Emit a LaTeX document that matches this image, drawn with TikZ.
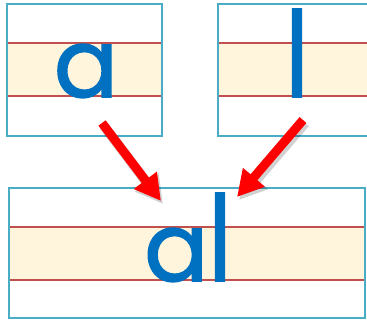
\documentclass[tikz,border=0pt]{standalone}
\usepackage{fontspec}
\newfontfamily\letterfont[FakeBold=1.6]{Poppins}
\usetikzlibrary{arrows.meta}
\definecolor{boxblue}{HTML}{4BACC6}
\definecolor{guidered}{HTML}{C0504D}
\definecolor{bandfill}{HTML}{FFF5DC}
\definecolor{letterblue}{HTML}{0070C0}
\definecolor{arrowred}{HTML}{FF0000}
\newcommand{\talll}{\scalebox{1}[1.25]{l}}
\tikzset{
  frame/.style={draw=boxblue, line width=2pt, inner sep=0pt},
  guide/.style={draw=guidered, line width=1.8pt},
  band/.style={fill=bandfill},
  letter/.style={text=letterblue, inner sep=0pt, font=\letterfont\fontsize{95}{95}\selectfont},
  redarrow/.style={draw=arrowred, line width=9pt, -{Triangle[length=26pt 0 0, width=27pt 0 0]}},
  shadowarrow/.style={draw=black, opacity=0.18, line width=10pt, -{Triangle[length=27pt 0 0, width=28pt 0 0]}}
}
\begin{document}
\begin{tikzpicture}[x=1pt,y=-1pt]
\useasboundingbox (0,0) rectangle (367,327);
% top-left box
\fill[band] (7,43) rectangle (162,96);
\draw[guide] (7,43) -- (162,43);
\draw[guide] (7,96) -- (162,96);
\node[frame, minimum width=155pt, minimum height=132pt] (boxa) at (84.5,70) {};
% top-right box
\fill[band] (218,43) rectangle (372,96);
\draw[guide] (218,43) -- (372,43);
\draw[guide] (218,96) -- (372,96);
\node[frame, minimum width=154pt, minimum height=132pt] (boxl) at (295,70) {};
% bottom box
\fill[band] (9,227) rectangle (365,280);
\draw[guide] (9,227) -- (365,227);
\draw[guide] (9,280) -- (365,280);
\node[frame, minimum width=356pt, minimum height=130pt] (boxal) at (187,253) {};
% letters
\node[letter, anchor=base] (la) at (86,97) {a};
\node[letter, anchor=base] (ll) at (297,97) {\talll};
\node[letter, anchor=base] (wal) at (188,281) {a\talll};
% arrows
\coordinate (s1) at (102,123);
\coordinate (e1) at (161,201);
\coordinate (s2) at (303,120);
\coordinate (e2) at (237,197);
\coordinate (s1sh) at (104,126);
\coordinate (e1sh) at (163,204);
\coordinate (s2sh) at (305,123);
\coordinate (e2sh) at (239,200);
\draw[shadowarrow] (s1sh) -- (e1sh);
\draw[shadowarrow] (s2sh) -- (e2sh);
\draw[redarrow] (s1) -- (e1);
\draw[redarrow] (s2) -- (e2);
\end{tikzpicture}
\end{document}
